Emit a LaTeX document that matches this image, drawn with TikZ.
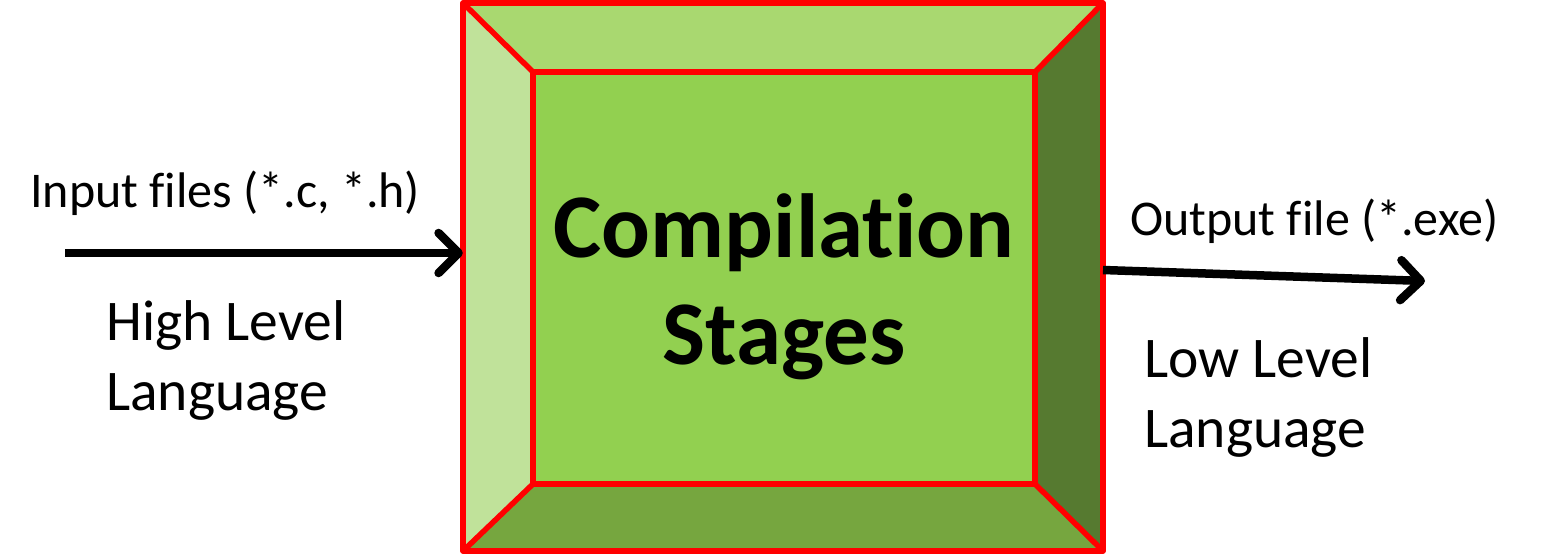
\documentclass[tikz,border=0pt]{standalone}
\usepackage{fontspec}
\setmainfont{Carlito}[RawFeature=-liga]
\usetikzlibrary{arrows.meta}
\definecolor{bevtop}{RGB}{169,216,112}
\definecolor{bevleft}{RGB}{192,226,154}
\definecolor{bevmid}{RGB}{146,208,80}
\definecolor{bevright}{RGB}{86,122,48}
\definecolor{bevbot}{RGB}{118,166,63}
\tikzset{
  flow/.style={line width=8.5pt,-{Straight Barb[length=20pt,width=40pt,round]}},
  lbl/.style={inner sep=0pt,font=\fontsize{50}{61}\selectfont},
  biglbl/.style={inner sep=0pt,align=left,font=\fontsize{57.5}{70}\selectfont},
  edge/.style={draw=red,line width=5.5pt,line join=round},
}
\begin{document}
\begin{tikzpicture}[x=1pt,y=-1pt]
\path[use as bounding box] (0,0) rectangle (1553,556);
% bevelled box
\coordinate (o1) at (463,3);
\coordinate (o2) at (1103,3);
\coordinate (o3) at (1103,551);
\coordinate (o4) at (463,551);
\coordinate (i1) at (533,72);
\coordinate (i2) at (1035,72);
\coordinate (i3) at (1035,484);
\coordinate (i4) at (533,484);
\fill[bevtop] (o1)--(o2)--(i2)--(i1)--cycle;
\fill[bevleft] (o1)--(i1)--(i4)--(o4)--cycle;
\fill[bevright] (o2)--(o3)--(i3)--(i2)--cycle;
\fill[bevbot] (o4)--(i4)--(i3)--(o3)--cycle;
\fill[bevmid] (i1) rectangle (i3);
\draw[edge] (o1) rectangle (o3);
\draw[edge] (i1) rectangle (i3);
\draw[edge] (o1)--(i1) (o2)--(i2) (o3)--(i3) (o4)--(i4);
\node[inner sep=0pt,minimum width=640pt,minimum height=548pt] (box) at (783,277) {};
\node[inner sep=0pt,align=center,anchor=base,font=\bfseries\fontsize{91}{107}\selectfont] (title) at (784,364) {Compilation\\Stages};
% input
\coordinate (in) at (65,253);
\draw[flow] (in) -- (box.west |- in);
\node[lbl,anchor=base west] (inlbl) at (30,208) {Input files (*.c, *.h)};
\node[biglbl,anchor=base west] (hll) at (106,410) {High Level\\Language};
% output
\coordinate (outs) at (1103,270);
\coordinate (out) at (1425,281);
\draw[flow] (outs) -- (out);
\node[lbl,anchor=base west] (outlbl) at (1130,236) {Output file (*.exe)};
\node[biglbl,anchor=base west] (lll) at (1144,447) {Low Level\\Language};
\end{tikzpicture}
\end{document}
